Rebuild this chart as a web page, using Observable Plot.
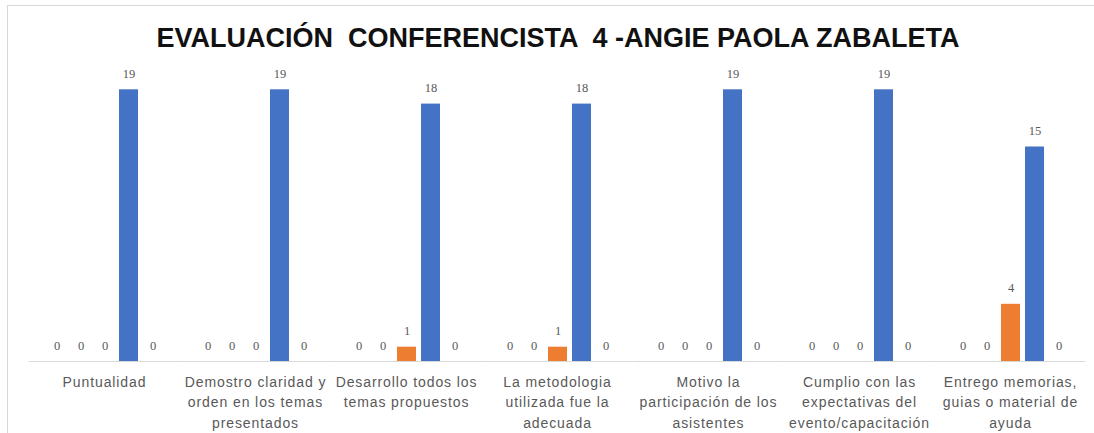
<!DOCTYPE html>
<html>
<head>
<meta charset="utf-8">
<script src="https://cdn.jsdelivr.net/npm/d3@7"></script>
<script src="https://cdn.jsdelivr.net/npm/@observablehq/plot@0.6"></script>
<style>
  html, body { margin: 0; padding: 0; background: #fff; }
  #wrap { position: relative; width: 1094px; height: 433px; overflow: hidden; }
  #frame { position: absolute; left: 7px; top: 5px; width: 1200px; height: 600px; border: 1px solid #d9d9d9; box-sizing: border-box; }
  #title { position: absolute; left: 22px; width: 1072px; top: 25px; line-height: 26px; text-align: center;
           font-family: "Liberation Sans", Arial, sans-serif; font-weight: bold; font-size: 27px; color: #111; white-space: pre; }
  #chart { position: absolute; left: 0; top: 0; }
  .chart g[aria-label="fx-axis tick label"] text { letter-spacing: 0.9px; }
</style>
</head>
<body>
<div id="wrap">
  <div id="frame"></div>
  <div id="chart"></div>
  <div id="title">EVALUACIÓN  CONFERENCISTA  4 -ANGIE PAOLA ZABALETA</div>
</div>
<script>
const categories = [
  "Puntualidad",
  "Demostro claridad y orden en los temas presentados",
  "Desarrollo todos los temas propuestos",
  "La metodologia utilizada fue la adecuada",
  "Motivo la participación de los asistentes",
  "Cumplio con las expectativas del evento/capacitación",
  "Entrego memorias, guias o material de ayuda"
];
const categoryLabels = [
  "Puntualidad",
  "Demostro claridad y\norden en los temas\npresentados",
  "Desarrollo todos los\ntemas propuestos",
  "La metodologia\nutilizada fue la\nadecuada",
  "Motivo la\nparticipación de los\nasistentes",
  "Cumplio con las\nexpectativas del\nevento/capacitación",
  "Entrego memorias,\nguias o material de\nayuda"
];
const seriesNames = ["1", "2", "3", "4", "5"];
const series1 = [0, 0, 0, 0, 0, 0, 0];
const series2 = [0, 0, 0, 0, 0, 0, 0];
const series3 = [0, 0, 1, 1, 0, 0, 4];
const series4 = [19, 19, 18, 18, 19, 19, 15];
const series5 = [0, 0, 0, 0, 0, 0, 0];
const seriesColors = ["#A5A5A5", "#FFC000", "#ED7D31", "#4472C4", "#5B9BD5"];

const allSeries = [series1, series2, series3, series4, series5];
const data = categories.flatMap((c, i) =>
  seriesNames.map((s, j) => ({cat: c, series: s, value: allSeries[j][i]}))
);
const labelOf = new Map(categories.map((c, i) => [c, categoryLabels[i]]));

const chart = Plot.plot({
  width: 1094,
  height: 433,
  marginLeft: 26,
  marginRight: 6,
  marginTop: 75,
  marginBottom: 72,
  className: "chart",
  style: {background: "transparent", overflow: "visible"},
  fx: {domain: categories, paddingInner: 0.176, paddingOuter: 0.088, label: null},
  x: {domain: seriesNames, paddingInner: 0.22, paddingOuter: 0.11, axis: null},
  y: {domain: [0, 20], axis: null},
  color: {domain: seriesNames, range: seriesColors},
  marks: [
    Plot.ruleY([0], {stroke: "#d9d9d9", strokeWidth: 1, insetLeft: -13.4, insetRight: -13.4}),
    Plot.barY(data, {fx: "cat", x: "series", y: "value", fill: "series"}),
    Plot.text(data, {
      fx: "cat", x: "series", y: "value", text: d => String(d.value), dy: -16,
      fill: "#595959", fontFamily: "'Liberation Serif', 'Times New Roman', serif", fontSize: 12.5
    }),
    Plot.axisFx({
      anchor: "bottom", tickSize: 0, tickPadding: 11, label: null,
      tickFormat: d => labelOf.get(d),
      fontSize: 14, lineHeight: 1.45, fill: "#595959",
      fontFamily: "'Liberation Sans', Arial, sans-serif"
    })
  ]
});
document.getElementById("chart").appendChild(chart);
</script>
</body>
</html>
